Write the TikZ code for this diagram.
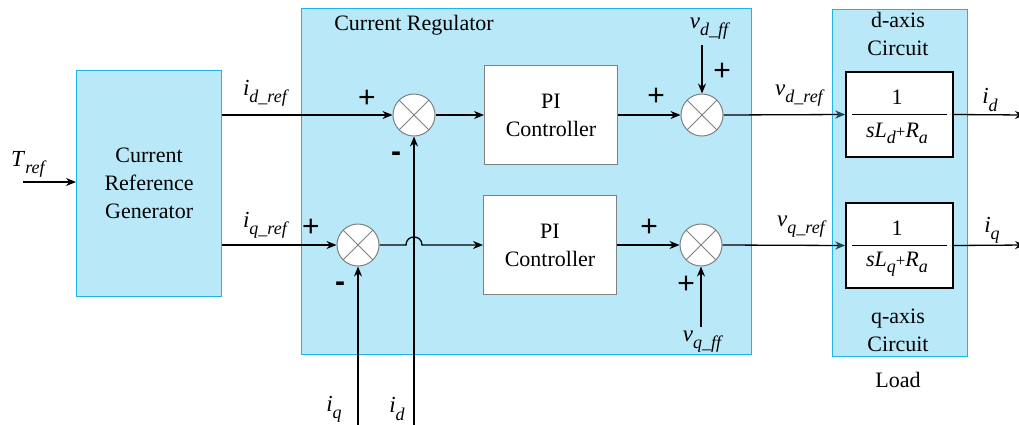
\documentclass[tikz,border=0pt]{standalone}
\usepackage{fontspec}
\setmainfont{Liberation Serif}
\newfontfamily\signfont{Liberation Sans}
\usetikzlibrary{arrows.meta}
\definecolor{panelfill}{RGB}{185,232,249}
\definecolor{panelline}{RGB}{30,180,232}
\definecolor{grayline}{RGB}{128,128,128}
\definecolor{tipteal}{RGB}{25,70,85}
\newcommand{\isub}[2]{{\fontsize{23}{23}\selectfont\textit{#1}}\raisebox{-0.7ex}{\fontsize{18}{18}\selectfont\textit{#2}}}
\newcommand{\dsub}[1]{\raisebox{-0.6ex}{\fontsize{18}{18}\selectfont\textit{#1}}}
\begin{document}
\begin{tikzpicture}[x=1pt,y=-1pt,font=\fontsize{22}{28}\selectfont,
 panel/.style={draw=panelline,fill=panelfill,line width=1.2pt,anchor=north west,inner sep=0pt},
 pibox/.style={draw=grayline,fill=white,line width=1pt,minimum width=133pt,minimum height=99pt,align=center,inner sep=0pt},
 tfbox/.style={draw=black,fill=white,line width=1.6pt,minimum width=107pt,minimum height=85pt,inner sep=0pt},
 sumnode/.style={circle,draw=grayline,fill=white,line width=1pt,minimum size=42pt,inner sep=0pt,
   path picture={\draw[grayline,line width=0.8pt]
     ([shift={(-15pt,-15pt)}]path picture bounding box.center) -- ([shift={(15pt,15pt)}]path picture bounding box.center)
     ([shift={(-15pt,15pt)}]path picture bounding box.center) -- ([shift={(15pt,-15pt)}]path picture bounding box.center);}},
 wire/.style={line width=1.3pt,-{Stealth[length=10pt,width=8pt]}},
 tealwire/.style={line width=1.3pt,-{Stealth[length=10pt,width=8pt,color=tipteal]}},
 sign/.style={font=\signfont\fontsize{30}{30}\selectfont,inner sep=0pt},
 minus/.style={font=\signfont\bfseries\fontsize{30}{30}\selectfont,inner sep=0pt},
 lbl/.style={inner sep=0pt}]
\useasboundingbox (0,0) rectangle (1019,424);

% panels
\node[panel,minimum width=145pt,minimum height=226pt,align=center] (crg) at (76,70) {Current\\Reference\\Generator};
\node[panel,minimum width=450pt,minimum height=346pt] (reg) at (301,8) {};
\node[panel,minimum width=135pt,minimum height=347pt] (load) at (832,9) {};
\node[lbl] (regtitle) at (414,25) {Current Regulator};
\node[lbl,align=center] (dax) at (898,34) {d-axis\\Circuit};
\node[lbl,align=center] (qax) at (898,330) {q-axis\\Circuit};
\node[lbl] (loadlbl) at (898,380) {Load};

% blocks
\node[sumnode] (s1) at (414,115) {};
\node[sumnode] (s2) at (358,245) {};
\node[sumnode] (s3) at (702,115) {};
\node[sumnode] (s4) at (701,245) {};
\node[pibox] (pi1) at (551,115) {PI\\Controller};
\node[pibox] (pi2) at (550,245) {PI\\Controller};
\node[tfbox] (tfd) at (899.5,114.5) {};
\node[tfbox] (tfq) at (899.5,245.5) {};
\node[lbl] (tfdn) at (897,97) {1};
\node[lbl] (tfdd) at (897,133) {\textit{sL}\dsub{d}{\fontsize{17}{17}\selectfont+}\textit{R}\dsub{a}};
\node[lbl] (tfqn) at (897,228) {1};
\node[lbl] (tfqd) at (897,264) {\textit{sL}\dsub{q}{\fontsize{17}{17}\selectfont+}\textit{R}\dsub{a}};
\draw[line width=1.3pt] ([xshift=7pt]tfd.west) -- ([xshift=-7pt]tfd.east);
\draw[line width=1.3pt] ([xshift=7pt]tfq.west) -- ([xshift=-7pt]tfq.east);

% free ends
\coordinate (tin) at (23,182);
\coordinate (idin) at (414,430);
\coordinate (iqin) at (358,430);
\coordinate (vdff) at (702,45);
\coordinate (vqff) at (701,327);
\coordinate (idout) at (1025,115);
\coordinate (iqout) at (1025,245);

% connectors
\draw[wire] (tin) -- (tin -| crg.west);
\draw[wire] (crg.east |- s1.west) -- (s1.west);
\draw[wire] (crg.east |- s2.west) -- (s2.west);
\draw[wire] (idin) -- (s1.south);
\draw[wire] (iqin) -- (s2.south);
\draw[wire] (s1.east) -- (pi1.west);
\draw[wire] (s2.east) -- (406,245) .. controls (406,234.3) and (422,234.3) .. (422,245) -- (pi2.west);
\draw[wire] (pi1.east) -- (s3.west);
\draw[wire] (pi2.east) -- (s4.west);
\draw[wire] (vdff) -- (s3.north);
\draw[wire] (vqff) -- (s4.south);
\draw[tealwire] (s3.east) -- (tfd.west);
\draw[tealwire] (s4.east) -- (tfq.west);
\draw[wire] (tfd.east) -- (idout);
\draw[wire] (tfq.east) -- (iqout);

% labels
\node[lbl] (ltref) at (29,164) {\isub{T}{ref}};
\node[lbl] (lidref) at (266,93) {\isub{i}{d\_ref}};
\node[lbl] (liqref) at (266,225) {\isub{i}{q\_ref}};
\node[lbl] (lvdref) at (800,96) {\isub{v}{d\_ref}};
\node[lbl] (lvqref) at (802,227) {\isub{v}{q\_ref}};
\node[lbl] (lvdff) at (710,29) {\isub{v}{d\_ff}};
\node[lbl] (lvqff) at (703,342) {\isub{v}{q\_ff}};
\node[lbl] (lidout) at (990,100) {\isub{i}{d}};
\node[lbl] (liqout) at (992,230) {\isub{i}{q}};
\node[lbl] (liqin) at (334,409) {\isub{i}{q}};
\node[lbl] (lidin) at (397,409) {\isub{i}{d}};

% signs
\node[sign] (p1) at (367,99) {+};
\node[minus] (m1) at (396,157) {-};
\node[sign] (p2) at (311,228) {+};
\node[minus] (m2) at (340,287) {-};
\node[sign] (p3) at (656,97) {+};
\node[sign] (p3b) at (722,72) {+};
\node[sign] (p4) at (649,228) {+};
\node[sign] (p4b) at (686,285) {+};
\end{tikzpicture}
\end{document}
